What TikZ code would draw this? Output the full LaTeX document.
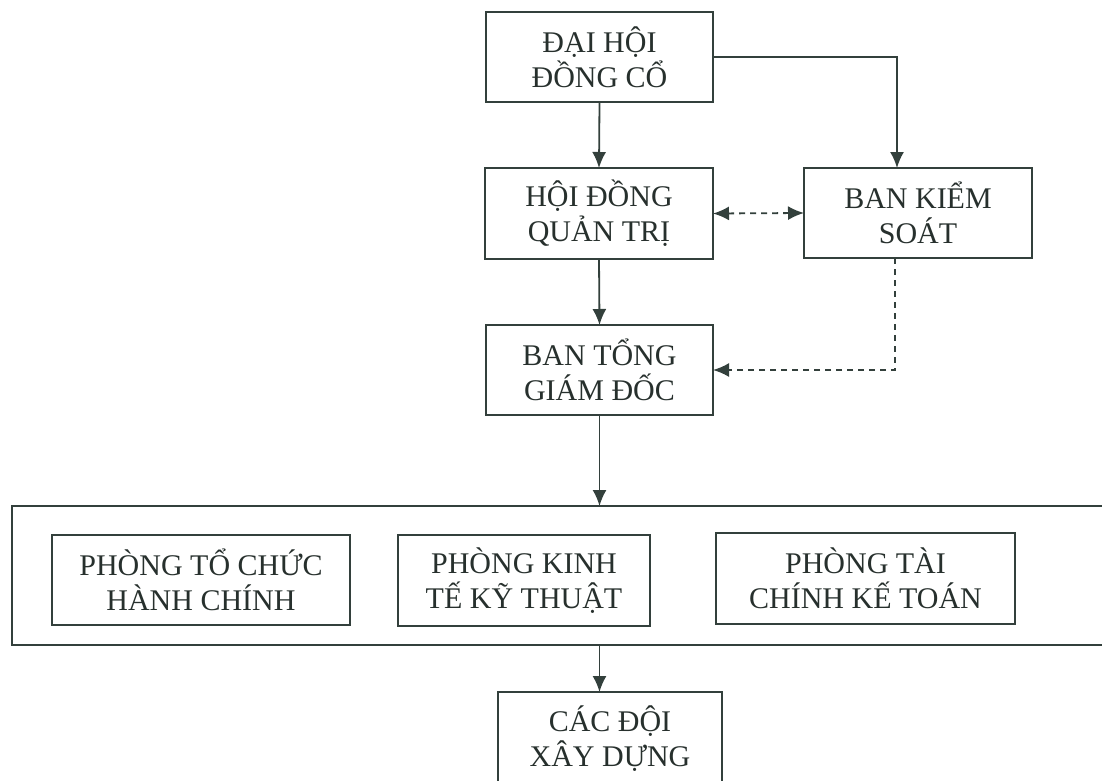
\documentclass[tikz,border=0pt]{standalone}
\usepackage{fontspec}
\setmainfont{Liberation Serif}
\usetikzlibrary{arrows.meta}
\definecolor{ink}{HTML}{33403C}
\definecolor{txt}{HTML}{27302D}
\begin{document}
\begin{tikzpicture}[x=0.5pt,y=-0.5pt,
  box/.style={draw=ink, line width=0.9pt, inner sep=0pt, outer sep=0pt, align=center,
    text=txt, font=\fontsize{15}{17.5}\selectfont},
  arr/.style={draw=ink, line width=0.9pt, -{Latex[length=8pt,width=7pt]}},
  darr/.style={arr, dash pattern=on 3pt off 2.5pt},
  ddarr/.style={draw=ink, line width=0.9pt, dash pattern=on 3pt off 2.5pt,
    {Latex[length=8pt,width=7pt]}-{Latex[length=8pt,width=7pt]}}]
\useasboundingbox (0,0) rectangle (1102,781);
\node[box, minimum width=113.5pt, minimum height=45pt] (dh) at (599.5,57) {ĐẠI HỘI\\ĐỒNG CỔ};
\node[box, minimum width=114pt, minimum height=45.5pt] (hd) at (599,213.5) {HỘI ĐỒNG\\QUẢN TRỊ};
\node[box, minimum width=114pt, minimum height=45pt] (bks) at (918,213) {BAN KIỂM\\SOÁT};
\node[box, minimum width=113.5pt, minimum height=45pt] (bt) at (599.5,370) {BAN TỔNG\\GIÁM ĐỐC};
\node[box, minimum width=556pt, minimum height=69.5pt] (cont) at (568,575.5) {};
\node[box, minimum width=149pt, minimum height=45pt] (p1) at (201,580) {PHÒNG TỔ CHỨC\\HÀNH CHÍNH};
\node[box, minimum width=126pt, minimum height=45.5pt] (p2) at (524,580.5) {PHÒNG KINH\\TẾ KỸ THUẬT};
\node[box, minimum width=149.5pt, minimum height=45.5pt] (p3) at (865.5,578.5) {PHÒNG TÀI\\CHÍNH KẾ TOÁN};
\node[box, minimum width=112pt, minimum height=47pt] (cd) at (610,739) {CÁC ĐỘI\\XÂY DỰNG};
\draw[arr] (dh.south) -- (hd.north);
\draw[arr] (dh.east) -| (bks.north -| 897,0);
\draw[ddarr] (hd.east) -- (bks.west);
\draw[arr] (hd.south) -- (bt.north);
\draw[darr] (bks.south -| 895,0) |- (bt.east);
\draw[arr] (bt.south) -- (cont.north -| bt.south);
\draw[arr] (cont.south -| bt.south) -- (cd.north -| bt.south);
\end{tikzpicture}
\end{document}
